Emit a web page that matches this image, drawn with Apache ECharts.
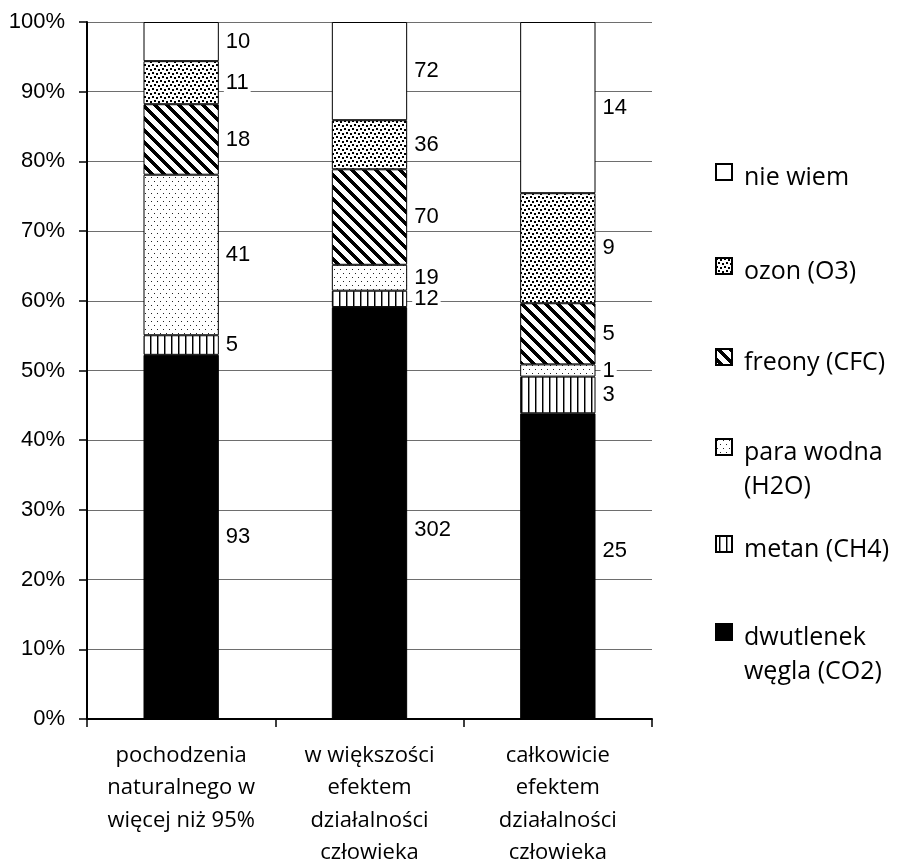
<!DOCTYPE html>
<html>
<head>
<meta charset="utf-8">
<script src="https://cdn.jsdelivr.net/npm/echarts@6/dist/echarts.min.js"></script>
<style>
  html, body { margin: 0; padding: 0; background: #fff; }
  #chart { width: 902px; height: 865px; }
</style>
</head>
<body>
<div id="chart"></div>
<script>
// Survey answers: what causes the greenhouse effect, per gas, split by opinion group
const categories = [
  'pochodzenia\nnaturalnego w\nwięcej niż 95%',
  'w większości\nefektem\ndziałalności\nczłowieka',
  'całkowicie\nefektem\ndziałalności\nczłowieka'
];
const seriesNames = ['dwutlenek węgla (CO2)', 'metan (CH4)', 'para wodna (H2O)', 'freony (CFC)', 'ozon (O3)', 'nie wiem'];
const legendLabels = ['dwutlenek\nwęgla (CO2)', 'metan (CH4)', 'para wodna\n(H2O)', 'freony (CFC)', 'ozon (O3)', 'nie wiem'];

// answer counts per category
const co2      = [93, 302, 25];
const ch4      = [5, 12, 3];
const h2o      = [41, 19, 1];
const cfc      = [18, 70, 5];
const o3       = [11, 36, 9];
const dontKnow = [10, 72, 14];

const yTicks = [0, 10, 20, 30, 40, 50, 60, 70, 80, 90, 100];

const counts = [co2, ch4, h2o, cfc, o3, dontKnow];
const totals = categories.map((_, i) => counts.reduce((s, arr) => s + arr[i], 0));

// ---- fill patterns -------------------------------------------------------
function tile(w, h, paint) {
  const c = document.createElement('canvas');
  c.width = w; c.height = h;
  const ctx = c.getContext('2d');
  ctx.fillStyle = '#fff';
  ctx.fillRect(0, 0, w, h);
  ctx.fillStyle = '#000';
  paint(ctx, w, h);
  return { image: c, repeat: 'repeat' };
}

const verticalLines = tile(7, 7, (ctx) => {
  ctx.fillRect(3, 0, 1, 7);
  ctx.fillStyle = '#8a8a8a';
  ctx.fillRect(4, 0, 1, 7);
});

const fineDots = tile(6, 8, (ctx) => {
  ctx.fillStyle = '#222';
  ctx.fillRect(1, 1, 1, 1);
  ctx.fillRect(4, 5, 1, 1);
});

const wideDiagonal = tile(12, 12, (ctx, w, h) => {
  for (let y = 0; y < h; y++) {
    for (let x = 0; x < w; x++) {
      const d = (((x - y) % w) + w) % w;
      if (d < 5) ctx.fillRect(x, y, 1, 1);
    }
  }
});

const confetti = tile(8, 8, (ctx) => {
  ctx.fillRect(0, 0, 2, 2);
  ctx.fillRect(4, 1, 2, 2);
  ctx.fillRect(2, 4, 2, 2);
  ctx.fillRect(6, 5, 2, 2);
});

const fills = ['#000', verticalLines, fineDots, wideDiagonal, confetti, '#fff'];

// ---- chart --------------------------------------------------------------
const NUM_FONT = 'Liberation Sans, Arial, sans-serif';
const TXT_FONT = 'Open Sans, Lato, sans-serif';

// vertical nudges for the CO2 value labels, per category
const co2LabelShift = [0, 17, -15];

const series = seriesNames.map((name, s) => ({
  name,
  type: 'bar',
  stack: 'total',
  barWidth: '40%',
  data: counts[s].map((v, i) => {
    const item = { value: v / totals[i] * 100 };
    if (s === 0 && co2LabelShift[i]) item.label = { offset: [0, co2LabelShift[i]] };
    return item;
  }),
  itemStyle: { color: fills[s], borderColor: '#000', borderWidth: 1 },
  label: {
    show: true,
    position: 'right',
    distance: 5,
    formatter: (p) => String(counts[s][p.dataIndex]),
    fontFamily: NUM_FONT,
    fontSize: 22,
    lineHeight: 22,
    color: '#000',
    backgroundColor: '#fff',
    padding: [0, 2]
  },
  emphasis: { disabled: true }
}));

// legend swatch: a 16px square sitting at the top of a taller slot,
// so the text line centre falls slightly below the square's centre
const SWATCH = 'path://M0,0H16V16H0Z M0,28L0,28';
const LEGEND_LH = 34;
const legendCenters = [632, 544, 447, 357, 266, 172];
const legends = seriesNames.map((name, i) => {
  const twoLine = legendLabels[i].indexOf('\n') >= 0;
  const c = legendCenters[i];
  const iconTop = c - 8;
  return {
    data: [name],
    selectedMode: false,
    orient: 'vertical',
    left: 715,
    top: twoLine ? iconTop - (1.5 * LEGEND_LH - 14) : iconTop - (LEGEND_LH / 2 - 14),
    padding: 0,
    icon: SWATCH,
    itemWidth: 16,
    itemHeight: 28,
    formatter: () => (twoLine ? '\u00a0\n' : '') + legendLabels[i],
    textStyle: {
      fontFamily: TXT_FONT,
      fontSize: 25,
      lineHeight: LEGEND_LH,
      color: '#000',
      padding: [0, 0, 0, 7]
    }
  };
});

const chart = echarts.init(document.getElementById('chart'), null, { renderer: 'canvas' });
chart.setOption({
  animation: false,
  backgroundColor: '#fff',
  grid: { left: 87, right: 250, top: 22, bottom: 146, containLabel: false, outerBoundsMode: 'none' },
  legend: legends,
  xAxis: {
    type: 'category',
    data: categories,
    boundaryGap: true,
    axisLine: { show: true, lineStyle: { color: '#000', width: 2 } },
    axisTick: { show: true, length: 8, interval: 0, lineStyle: { color: '#000', width: 1.5 } },
    axisLabel: {
      interval: 0,
      margin: 20,
      fontFamily: TXT_FONT,
      fontSize: 22,
      lineHeight: 32.5,
      color: '#000'
    },
    splitLine: { show: false }
  },
  yAxis: {
    type: 'value',
    min: yTicks[0],
    max: yTicks[yTicks.length - 1],
    interval: yTicks[1] - yTicks[0],
    axisLine: { show: true, lineStyle: { color: '#000', width: 2 } },
    axisTick: { show: true, length: 8, lineStyle: { color: '#000', width: 1.5 } },
    axisLabel: {
      margin: 22,
      formatter: '{value}%',
      fontFamily: NUM_FONT,
      fontSize: 22,
      color: '#000'
    },
    splitLine: { show: true, lineStyle: { color: '#6e6e6e', width: 1 } }
  },
  series
});
</script>
</body>
</html>
